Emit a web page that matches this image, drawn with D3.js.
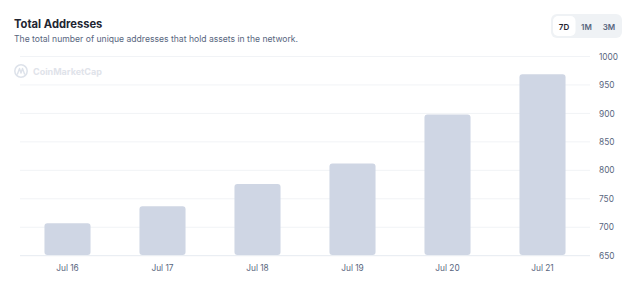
<!DOCTYPE html>
<html>
<head>
<meta charset="utf-8">
<script src="https://cdn.jsdelivr.net/npm/d3@7"></script>
<style>
  html, body { margin: 0; padding: 0; background: #fff; }
  svg { display: block; font-family: Inter, "Open Sans", sans-serif; }
</style>
</head>
<body>
<svg id="chart" width="637" height="289"></svg>
<script>
const categories = ["Jul 16", "Jul 17", "Jul 18", "Jul 19", "Jul 20", "Jul 21"];
const values = [707, 737, 776, 812, 898, 969];
const yTicks = [650, 700, 750, 800, 850, 900, 950, 1000];
const ranges = ["7D", "1M", "3M"];

const svg = d3.select("#chart");

// Title
svg.append("text").attr("x", 14).attr("y", 28)
  .attr("font-size", 11.2).attr("font-weight", 700).attr("fill", "#222531")
  .text("Total Addresses");
svg.append("text").attr("x", 14).attr("y", 42)
  .attr("font-size", 8.6).attr("fill", "#58667e")
  .text("The total number of unique addresses that hold assets in the network.");

// Range buttons
const btnG = svg.append("g");
btnG.append("rect").attr("x", 551).attr("y", 14).attr("width", 71).attr("height", 24)
  .attr("rx", 6).attr("fill", "#eff2f5");
btnG.append("rect").attr("x", 553).attr("y", 16).attr("width", 22.5).attr("height", 20)
  .attr("rx", 5).attr("fill", "#ffffff");
const btnX = d3.scalePoint().domain(ranges).range([564, 609]);
btnG.selectAll("text.btn").data(ranges).join("text")
  .attr("class", "btn")
  .attr("x", d => btnX(d)).attr("y", 29.5)
  .attr("text-anchor", "middle").attr("font-size", 8).attr("font-weight", 600)
  .attr("fill", (d, i) => i === 0 ? "#222531" : "#58667e")
  .text(d => d);

// Scales
const x = d3.scaleBand().domain(categories).range([20, 590])
  .paddingInner(0.515).paddingOuter(0.2575);
const y = d3.scaleLinear().domain([650, 1000]).range([255.7, 56.5]);

// Gridlines
svg.append("g").selectAll("line").data(yTicks).join("line")
  .attr("x1", 20).attr("x2", 590)
  .attr("y1", d => y(d)).attr("y2", d => y(d))
  .attr("stroke", d => d === 650 ? "#e6eaf0" : "#f1f3f6").attr("stroke-width", 1);

// Watermark
const wm = svg.append("g").attr("transform", "translate(14,64)");
wm.append("circle").attr("cx", 7).attr("cy", 7).attr("r", 6.2)
  .attr("fill", "none").attr("stroke", "#dde2ea").attr("stroke-width", 1.5);
wm.append("path").attr("d", "M3.5,10 L5.5,4.5 L7,9 L8.5,4.5 L10.5,10")
  .attr("fill", "none").attr("stroke", "#dde2ea").attr("stroke-width", 1.4)
  .attr("stroke-linejoin", "round").attr("stroke-linecap", "round");
wm.append("text").attr("x", 19).attr("y", 10.5)
  .attr("font-size", 9).attr("font-weight", 700).attr("fill", "#dfe3ea")
  .text("CoinMarketCap");

// Bars
svg.append("g").selectAll("rect").data(values).join("rect")
  .attr("x", (d, i) => x(categories[i]))
  .attr("width", x.bandwidth())
  .attr("y", d => y(d))
  .attr("height", d => y(650) - y(d) - 0.7)
  .attr("rx", 3).attr("fill", "#cfd6e4");

// X axis labels
const xAxis = d3.axisBottom(x).tickSize(0).tickPadding(0);
const gx = svg.append("g").attr("transform", "translate(0,271)").call(xAxis);
gx.select(".domain").remove();
gx.selectAll("text").attr("font-size", 8.3).attr("fill", "#58667e")
  .attr("font-family", "Inter, 'Open Sans', sans-serif").attr("dy", 0);

// Y axis labels
const yAxis = d3.axisRight(y).tickValues(yTicks).tickFormat(d3.format("d"))
  .tickSize(0).tickPadding(0);
const gy = svg.append("g").attr("transform", "translate(599,0)").call(yAxis);
gy.select(".domain").remove();
gy.selectAll("text").attr("font-size", 8.3).attr("fill", "#58667e")
  .attr("font-family", "Inter, 'Open Sans', sans-serif").attr("text-anchor", "start");
</script>
</body>
</html>
